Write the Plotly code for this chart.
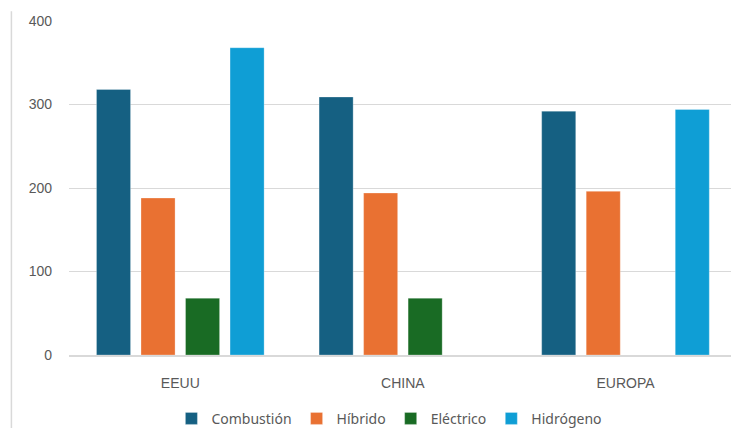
import plotly.graph_objects as go

regions = ["EEUU", "CHINA", "EUROPA"]
series_names = ["Combustión", "Híbrido", "Eléctrico", "Hidrógeno"]
combustion = [318, 309, 292]
hibrido = [188, 194, 196]
electrico = [68, 68, None]
hidrogeno = [368, None, 294]
colors = ["#156082", "#E97132", "#196B24", "#0F9ED5"]
y_ticks = [0, 100, 200, 300, 400]

series_values = [combustion, hibrido, electrico, hidrogeno]

fig = go.Figure()
for name, vals, col in zip(series_names, series_values, colors):
    fig.add_trace(go.Bar(
        x=regions, y=vals, name=name,
        marker=dict(color=col, line=dict(color="rgba(255,255,255,0.35)", width=0.8)),
    ))

fig.update_layout(
    width=731, height=428,
    margin=dict(l=69, r=0, t=21, b=73, autoexpand=False),
    paper_bgcolor="white", plot_bgcolor="white",
    barmode="group", bargap=0.2, bargroupgap=0.235,
    font=dict(family="Liberation Sans, Arial, sans-serif", size=13, color="#595959"),
    showlegend=True,
    legend=dict(orientation="h", x=0.484, xanchor="center", y=-0.191, yanchor="middle",
                font=dict(family="Noto Sans, sans-serif", size=14, color="#595959"),
                itemwidth=30, tracegroupgap=0),
    xaxis=dict(range=[-0.5, 2.474], showgrid=False, showline=True, linecolor="#D9D9D9",
               linewidth=1.5, ticks="", ticklabelstandoff=14,
               tickfont=dict(size=14, color="#595959")),
    yaxis=dict(range=[0, 400], tickvals=y_ticks, showgrid=True, gridcolor="#D9D9D9",
               gridwidth=1.3, zeroline=False, showline=False, ticks="",
               ticklabelstandoff=16, tickfont=dict(size=14, color="#595959")),
    shapes=[dict(type="line", xref="paper", yref="paper", x0=-0.087, x1=-0.087,
                 y0=1.029, y1=-0.22, line=dict(color="#D9D9D9", width=1.5))],
)

fig.write_html("out.html")
